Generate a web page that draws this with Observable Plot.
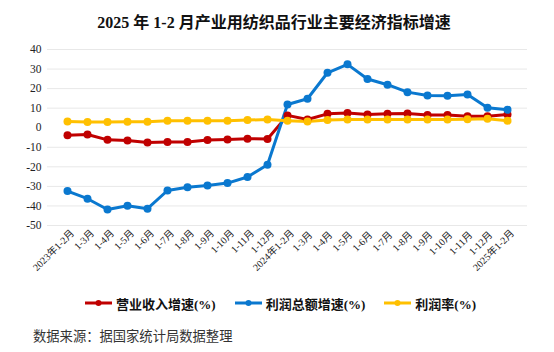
<!DOCTYPE html>
<html><head><meta charset="utf-8">
<script src="https://cdn.jsdelivr.net/npm/d3@7"></script>
<script src="https://cdn.jsdelivr.net/npm/@observablehq/plot@0.6"></script>
<style>
body{margin:0;background:#fff;width:554px;height:352px;overflow:hidden;font-family:"Liberation Serif","Noto Sans CJK SC",serif;}
#title{height:38px;line-height:22px;padding-top:12px;box-sizing:border-box;text-align:center;font-weight:bold;font-size:16px;color:#111;padding-right:6px;white-space:nowrap;}
#chart{height:245px;}
#legend{height:40px;display:flex;justify-content:flex-start;align-items:center;gap:19px;font-weight:bold;font-size:13px;color:#111;padding-left:85px;box-sizing:border-box;}
#legend span{display:flex;align-items:center;gap:4px;}
#caption{font-size:13.3px;color:#333;padding-left:33px;font-family:"Noto Sans CJK SC",sans-serif;margin-top:4px;line-height:18px;}
</style></head><body>
<div id="title">2025 年 1-2 月产业用纺织品行业主要经济指标增速</div>
<div id="chart"></div>
<div id="legend"></div>
<div id="caption">数据来源：据国家统计局数据整理</div>
<script>
const categories = ["2023年1-2月","1-3月","1-4月","1-5月","1-6月","1-7月","1-8月","1-9月","1-10月","1-11月","1-12月",
  "2024年1-2月","1-3月 ","1-4月 ","1-5月 ","1-6月 ","1-7月 ","1-8月 ","1-9月 ","1-10月 ","1-11月 ","1-12月 ","2025年1-2月"];
const revenueGrowth = [-3.8,-3.5,-6.2,-6.5,-7.5,-7.3,-7.3,-6.3,-6.0,-5.6,-5.8, 6.3,4.2,7.1,7.5,6.8,7.1,7.3,6.5,6.5,5.9,5.9,6.8];
const profitGrowth = [-32.4,-36.3,-41.8,-39.9,-41.4,-32.1,-30.4,-29.5,-28.3,-25.2,-18.9, 11.9,14.8,28.1,32.4,24.9,22.0,18.2,16.5,16.4,17.0,10.2,9.2];
const profitMargin = [3.2,2.9,2.9,3.0,3.0,3.6,3.6,3.6,3.6,3.9,4.2, 3.6,3.2,4.0,4.2,4.2,4.2,4.2,4.2,4.2,4.3,4.6,3.6];
const seriesNames = ["营业收入增速(%)","利润总额增速(%)","利润率(%)"];
const seriesColors = ["#C00000","#0A78CF","#FFC000"];
const yTicks = [40,30,20,10,0,-10,-20,-30,-40,-50];

const rows = [];
[revenueGrowth, profitGrowth, profitMargin].forEach((arr, s) => {
  arr.forEach((v, i) => rows.push({cat: categories[i], v, s: seriesNames[s]}));
});

const chart = Plot.plot({
  width: 554, height: 245,
  marginTop: 11, marginBottom: 58, marginLeft: 47, marginRight: 27,
  style: {fontFamily: '"Liberation Serif","Noto Sans CJK SC",serif', color: "#222", background: "#fff"},
  x: {type: "point", domain: categories, padding: 0.5},
  y: {domain: [-50, 40]},
  color: {domain: seriesNames, range: seriesColors},
  marks: [
    Plot.gridY(yTicks.filter(d => d !== 0), {stroke: "#e8e8e8", strokeOpacity: 1, strokeWidth: 1}),
    Plot.ruleY([0], {stroke: "#8c8c8c", strokeWidth: 1.5, strokeDasharray: "6,4", x1: categories[0], x2: categories[categories.length-1], dx: -10}),
    Plot.axisY({ticks: yTicks, tickSize: 0, tickPadding: 6, fontSize: 11.5, label: null, tickFormat: d => String(d)}),
    Plot.axisX({tickRotate: -45, tickSize: 0, tickPadding: 4, fontSize: 10, label: null, dx: 5, dy: 2}),
    Plot.line(rows, {x: "cat", y: "v", z: "s", stroke: "s", strokeWidth: 3}),
    Plot.dot(rows, {x: "cat", y: "v", fill: "s", r: 4})
  ]
});
document.getElementById("chart").appendChild(chart);

const legend = document.getElementById("legend");
seriesNames.forEach((n, i) => {
  const sp = document.createElement("span");
  sp.innerHTML = `<svg width="27" height="10"><line x1="0" y1="5" x2="27" y2="5" stroke="${seriesColors[i]}" stroke-width="3"/><circle cx="13.5" cy="5" r="3" fill="${seriesColors[i]}"/></svg>${n}`;
  legend.appendChild(sp);
});
</script>
</body></html>
